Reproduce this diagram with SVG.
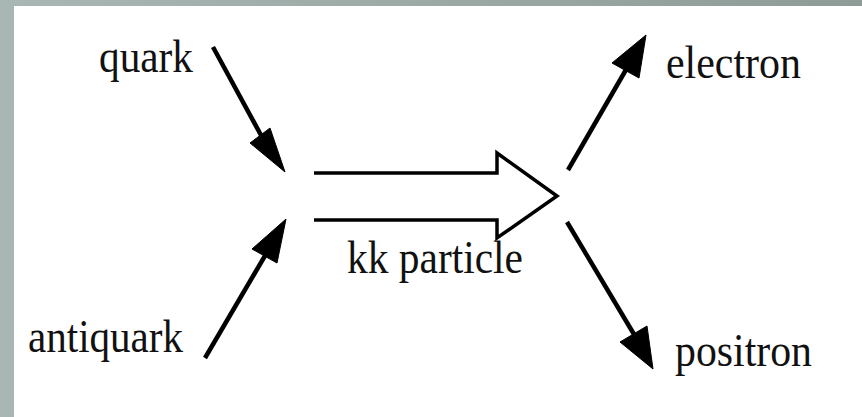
<svg xmlns="http://www.w3.org/2000/svg" width="862" height="417" viewBox="0 0 862 417">
<style>
.lbl{font-family:"Liberation Serif","Times New Roman",serif;font-size:46px;fill:#111}
.ln{stroke:#000;stroke-width:4.5;fill:none}
.hd{fill:#000;stroke:#000;stroke-width:1;stroke-linejoin:miter}
.dbl{stroke:#000;stroke-width:3.5;fill:#fff;stroke-linejoin:miter}
</style>
<defs>
<linearGradient id="bg" x1="0" y1="0" x2="1" y2="0">
<stop offset="0" stop-color="#a9b7b4"/>
<stop offset="1" stop-color="#8f9b97"/>
</linearGradient>
</defs>
<rect width="862" height="417" fill="url(#bg)"/>
<rect x="14" y="6" width="848" height="411" fill="#fff"/>
<g id="quark"><text class="lbl" x="99" y="72" textLength="94" lengthAdjust="spacingAndGlyphs">quark</text></g>
<g id="antiquark"><text class="lbl" x="28" y="352" textLength="155" lengthAdjust="spacingAndGlyphs">antiquark</text></g>
<g id="electron"><text class="lbl" x="666" y="78" textLength="135" lengthAdjust="spacingAndGlyphs">electron</text></g>
<g id="positron"><text class="lbl" x="675" y="366" textLength="137" lengthAdjust="spacingAndGlyphs">positron</text></g>
<g id="kk"><text class="lbl" x="347" y="273" textLength="176" lengthAdjust="spacingAndGlyphs">kk particle</text></g>
<g id="connectors">
<line class="ln" x1="213" y1="47" x2="262" y2="137"/>
<polygon class="hd" points="250,143 270,128 285,172"/>
<line class="ln" x1="205" y1="358" x2="266" y2="254"/>
<polygon class="hd" points="252,249 277,263 286,219"/>
<line class="ln" x1="568" y1="170" x2="627" y2="68"/>
<polygon class="hd" points="612,63 639,78 646,35"/>
<line class="ln" x1="567" y1="222" x2="635" y2="336"/>
<polygon class="hd" points="620,342 647,326 653,369"/>
<polyline class="dbl" points="314,173 497,173 497,153 557,196 497,238 497,220 314,220"/>
</g>
</svg>
